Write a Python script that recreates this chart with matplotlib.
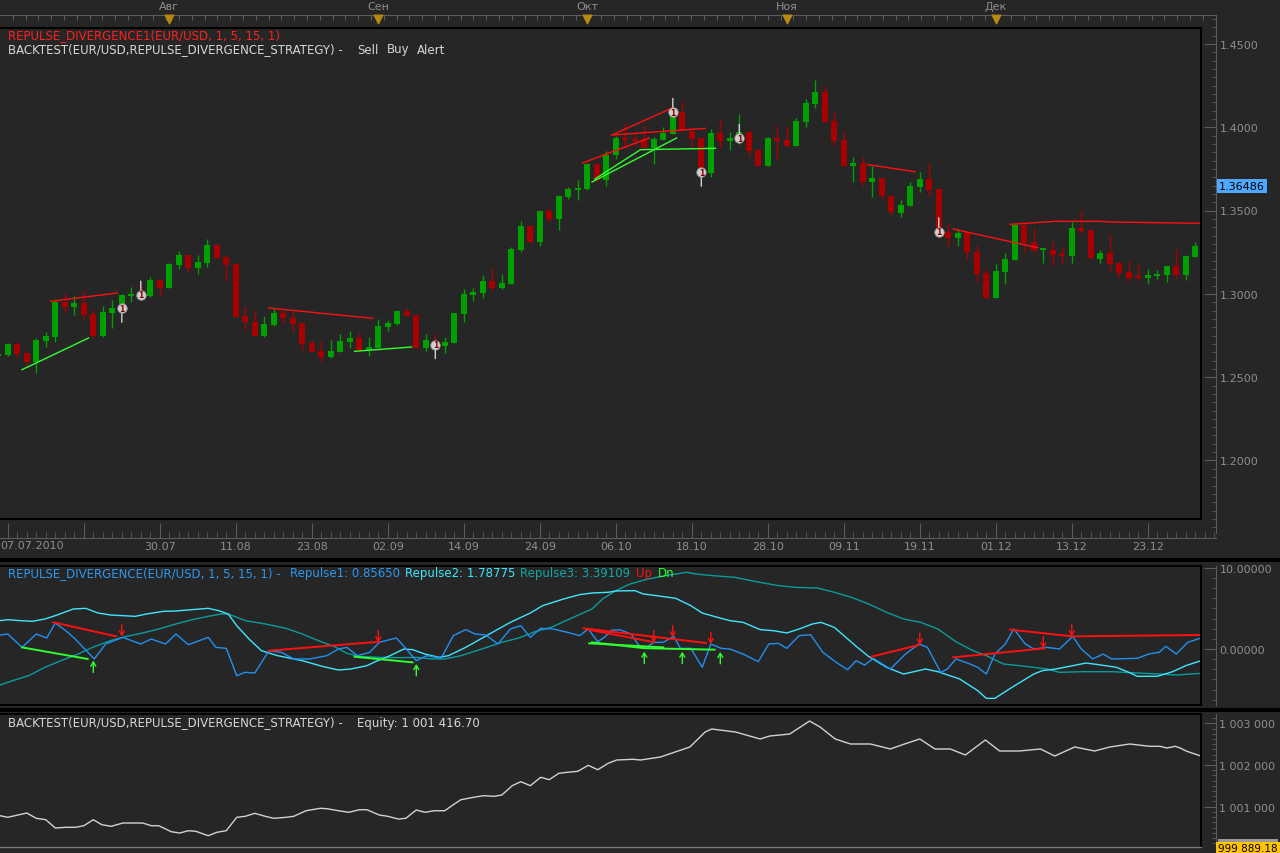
import numpy as np
import matplotlib
matplotlib.use('Agg')
import matplotlib.pyplot as plt
import matplotlib.transforms as mtransforms
from matplotlib.patches import Rectangle
from matplotlib.ticker import (MultipleLocator, FixedLocator, FixedFormatter,
                               FormatStrFormatter, FuncFormatter)

plt.rcParams['font.family'] = ['DejaVu Sans']

# ---- price data (daily EUR/USD candles, 07.07.2010 .. end of Dec) ----
opens = [1.2627, 1.2633, 1.2699, 1.2645, 1.2589, 1.2717, 1.2741, 1.2949, 1.2921, 1.2945,
         1.2877, 1.2747, 1.2885, 1.2937, 1.2987, 1.2996, 1.2987, 1.3083, 1.3037, 1.3173,
         1.3233, 1.3157, 1.3187, 1.3293, 1.3223, 1.3179, 1.2865, 1.2829, 1.2749, 1.2815,
         1.2883, 1.2855, 1.2825, 1.2705, 1.2657, 1.2623, 1.2653, 1.2713, 1.2733, 1.2663,
         1.2677, 1.2803, 1.2819, 1.2897, 1.2873, 1.2675, 1.2717, 1.2687, 1.2705, 1.2879,
         1.2993, 1.3005, 1.3077, 1.3035, 1.3059, 1.3263, 1.3407, 1.3311, 1.3497, 1.3449,
         1.3581, 1.3625, 1.3629, 1.3779, 1.3685, 1.3833, 1.3935, 1.3929, 1.3929, 1.3875,
         1.3923, 1.3959, 1.4091, 1.3979, 1.3933, 1.3725, 1.3965, 1.3919, 1.3953, 1.3971,
         1.3863, 1.3769, 1.3933, 1.3923, 1.3889, 1.4033, 1.4139, 1.4209, 1.4039, 1.3923,
         1.3769, 1.3785, 1.3669, 1.3695, 1.3585, 1.3485, 1.3529, 1.3643, 1.3689, 1.3629,
         1.3371, 1.3333, 1.3371, 1.3249, 1.3125, 1.2975, 1.3133, 1.3205, 1.3413, 1.3309,
         1.3263, 1.3261, 1.3239, 1.3229, 1.3395, 1.3383, 1.3209, 1.3245, 1.3185, 1.3131,
         1.3105, 1.3097, 1.3109, 1.3115, 1.3167, 1.3115, 1.3223]
highs = [1.2645, 1.2705, 1.2713, 1.2645, 1.2735, 1.2773, 1.2959, 1.3005, 1.2985, 1.3023,
         1.2909, 1.2925, 1.2961, 1.2999, 1.3041, 1.3059, 1.3103, 1.3089, 1.3185, 1.3257,
         1.3233, 1.3233, 1.3329, 1.3305, 1.3233, 1.3183, 1.2925, 1.2903, 1.2865, 1.2909,
         1.2905, 1.2897, 1.2825, 1.2721, 1.2717, 1.2723, 1.2759, 1.2777, 1.2763, 1.2743,
         1.2849, 1.2843, 1.2897, 1.2913, 1.2873, 1.2759, 1.2759, 1.2741, 1.2885, 1.3029,
         1.3035, 1.3113, 1.3155, 1.3119, 1.3281, 1.3437, 1.3413, 1.3497, 1.3509, 1.3593,
         1.3641, 1.3683, 1.3785, 1.3785, 1.3859, 1.3949, 1.4025, 1.3965, 1.4015, 1.3941,
         1.4001, 1.4109, 1.4157, 1.3989, 1.3933, 1.3989, 1.4049, 1.3971, 1.4079, 1.3977,
         1.3869, 1.3939, 1.4009, 1.4009, 1.4055, 1.4169, 1.4281, 1.4249, 1.4089, 1.3969,
         1.3819, 1.3819, 1.3769, 1.3695, 1.3585, 1.3563, 1.3671, 1.3733, 1.3785, 1.3629,
         1.3419, 1.3389, 1.3373, 1.3295, 1.3149, 1.3179, 1.3245, 1.3419, 1.3419, 1.3395,
         1.3277, 1.3317, 1.3283, 1.3433, 1.3499, 1.3383, 1.3263, 1.3353, 1.3185, 1.3199,
         1.3179, 1.3149, 1.3143, 1.3167, 1.3269, 1.3233, 1.3311]
lows = [1.2621, 1.2627, 1.2613, 1.2569, 1.2525, 1.2683, 1.2713, 1.2893, 1.2873, 1.2849,
        1.2735, 1.2741, 1.2797, 1.2929, 1.2953, 1.2981, 1.2983, 1.2985, 1.3033, 1.3149,
        1.3133, 1.3119, 1.3163, 1.3217, 1.3079, 1.2863, 1.2783, 1.2749, 1.2739, 1.2807,
        1.2825, 1.2773, 1.2665, 1.2649, 1.2589, 1.2613, 1.2653, 1.2677, 1.2659, 1.2629,
        1.2677, 1.2779, 1.2813, 1.2867, 1.2675, 1.2659, 1.2687, 1.2645, 1.2705, 1.2833,
        1.2957, 1.2975, 1.3023, 1.3029, 1.3059, 1.3251, 1.3305, 1.3287, 1.3431, 1.3383,
        1.3569, 1.3563, 1.3623, 1.3671, 1.3645, 1.3809, 1.3869, 1.3881, 1.3875, 1.3779,
        1.3923, 1.3959, 1.3977, 1.3881, 1.3753, 1.3703, 1.3873, 1.3865, 1.3899, 1.3829,
        1.3765, 1.3765, 1.3809, 1.3879, 1.3885, 1.3999, 1.4113, 1.4033, 1.3889, 1.3765,
        1.3669, 1.3645, 1.3579, 1.3569, 1.3479, 1.3459, 1.3525, 1.3613, 1.3585, 1.3353,
        1.3289, 1.3289, 1.3205, 1.3069, 1.2969, 1.2975, 1.3059, 1.3203, 1.3253, 1.3259,
        1.3185, 1.3169, 1.3179, 1.3185, 1.3365, 1.3213, 1.3185, 1.3139, 1.3097, 1.3079,
        1.3085, 1.3061, 1.3089, 1.3073, 1.3097, 1.3085, 1.3223]
closes = [1.2639, 1.2699, 1.2639, 1.2593, 1.2723, 1.2749, 1.2953, 1.2923, 1.2945, 1.2875,
          1.2747, 1.2889, 1.2915, 1.2993, 1.2997, 1.2990, 1.3083, 1.3035, 1.3179, 1.3233,
          1.3157, 1.3191, 1.3293, 1.3217, 1.3175, 1.2863, 1.2829, 1.2749, 1.2819, 1.2885,
          1.2853, 1.2819, 1.2699, 1.2653, 1.2623, 1.2657, 1.2717, 1.2735, 1.2659, 1.2681,
          1.2807, 1.2825, 1.2897, 1.2867, 1.2675, 1.2723, 1.2699, 1.2711, 1.2885, 1.2999,
          1.3011, 1.3077, 1.3035, 1.3065, 1.3269, 1.3407, 1.3311, 1.3497, 1.3449, 1.3587,
          1.3629, 1.3635, 1.3779, 1.3685, 1.3833, 1.3933, 1.3923, 1.3917, 1.3875, 1.3929,
          1.3965, 1.4069, 1.3977, 1.3929, 1.3753, 1.3965, 1.3919, 1.3933, 1.3971, 1.3859,
          1.3769, 1.3933, 1.3919, 1.3889, 1.4035, 1.4145, 1.4209, 1.4033, 1.3919, 1.3769,
          1.3785, 1.3669, 1.3695, 1.3585, 1.3491, 1.3533, 1.3649, 1.3689, 1.3625, 1.3397,
          1.3333, 1.3365, 1.3249, 1.3119, 1.2975, 1.3135, 1.3209, 1.3413, 1.3305, 1.3259,
          1.3269, 1.3233, 1.3229, 1.3395, 1.3377, 1.3213, 1.3245, 1.3179, 1.3127, 1.3097,
          1.3097, 1.3113, 1.3119, 1.3167, 1.3115, 1.3227, 1.3287]
last_price = 1.36486

date_ticks = [1, 9, 17, 25, 33, 41, 49, 57, 65, 73, 81, 89, 97, 105, 113, 121]
date_labels = ['07.07.2010', '', '30.07', '11.08', '23.08', '02.09', '14.09', '24.09',
               '06.10', '18.10', '28.10', '09.11', '19.11', '01.12', '13.12', '23.12']
month_idx = [18, 40, 62, 83, 105]
month_labels = ['Авг', 'Сен', 'Окт', 'Ноя', 'Дек']

# strategy signals on the price chart
sig_idx = [13, 15, 46, 71, 74, 78, 99]
sig_price = [1.2913, 1.2993, 1.2695, 1.4089, 1.3729, 1.3933, 1.3373]
sig_dir = [-1, 1, -1, 1, -1, 1, 1]

# divergence lines on the price chart: (index, price) vertices
price_red = [[(5.5, 1.2955), (12.5, 1.3005)],
             [(28.5, 1.2915), (39.4, 1.2853)],
             [(61.5, 1.3785), (68.5, 1.3935)],
             [(64.6, 1.3953), (71.0, 1.4117)],
             [(64.6, 1.3953), (74.4, 1.3993)],
             [(91.5, 1.3775), (96.5, 1.3733)],
             [(100.5, 1.3389), (109.4, 1.3277)],
             [(106.5, 1.3417), (111.2, 1.3435), (116.0, 1.3435), (117.0, 1.3431), (126.6, 1.3423)]]
price_green = [[(2.5, 1.2545), (9.5, 1.2735)],
               [(37.5, 1.2655), (43.5, 1.2681)],
               [(62.5, 1.3671), (71.4, 1.3935)],
               [(62.8, 1.3689), (67.6, 1.3865), (75.5, 1.3873)]]

# ---- REPULSE oscillator ----
rep1_x = [0.2, 1.0, 2.5, 4.0, 5.1, 6.0, 7.1, 8.1, 10.1, 11.3, 13.1, 15.0, 16.1, 17.6, 18.7,
          20.0, 22.1, 22.9, 24.0, 25.1, 26.0, 27.0, 28.5, 29.8, 31.1, 32.8, 34.6, 35.8, 36.7,
          37.8, 39.1, 40.1, 41.9, 42.7, 44.0, 45.1, 46.6, 47.9, 49.2, 50.2, 51.3, 52.6, 53.9,
          55.0, 56.0, 57.1, 58.4, 59.9, 61.2, 62.1, 63.1, 63.8, 64.6, 65.5, 66.6, 67.4, 68.1,
          69.0, 70.0, 71.1, 71.8, 72.9, 74.1, 75.0, 76.1, 77.0, 78.4, 80.0, 81.1, 82.1, 83.0,
          84.3, 85.5, 86.8, 88.2, 89.4, 90.3, 91.2, 92.1, 93.9, 95.5, 96.9, 97.8, 99.2, 99.9,
          100.8, 102.1, 103.1, 104.0, 104.9, 106.0, 106.9, 108.1, 109.0, 110.4, 111.7, 113.1,
          114.0, 115.2, 116.3, 117.2, 119.9, 121.1, 122.2, 122.9, 124.0, 125.2, 126.6]
rep1_v = [1.73, 1.85, 0.2, 1.85, 1.36, 3.21, 2.26, 1.23, -1.23, 0.62, 1.44, 0.62, 1.23, 0.62,
          1.85, 0.53, 1.44, 0.2, 0.08, -3.29, -2.88, -2.96, -0.21, -0.41, -1.23, -1.23, -0.82,
          0.0, 0.2, -0.82, -0.41, 0.82, 1.36, 0.33, -1.44, -0.82, -1.15, 1.65, 2.39, 1.85, 1.73,
          0.62, 2.47, 2.88, 1.44, 2.55, 2.47, 2.06, 1.65, 2.47, 0.9, 1.44, 2.35, 2.35, 1.85,
          0.49, 0.08, 0.82, 0.82, 1.56, 0.08, 0.08, -2.26, 0.62, 0.08, 0.0, -0.62, -1.56, 0.62,
          0.7, 0.08, 1.65, 1.77, -0.41, -1.65, -2.55, -1.44, -1.98, -1.15, -2.47, -0.62, 0.62,
          0.2, -2.88, -2.47, -1.23, -1.77, -2.26, -3.09, -0.62, 0.62, 2.47, 0.62, 0.0, 0.2, 0.0,
          1.56, 0.0, -1.23, -0.62, -1.23, -1.15, -0.62, -0.41, 0.33, -0.62, 0.82, 1.36]
rep2_x = [0.2, 1.0, 2.3, 3.6, 4.9, 6.0, 7.9, 9.2, 10.5, 11.8, 14.4, 15.6, 17.4, 18.7, 20.4,
          22.1, 23.2, 24.2, 25.1, 26.4, 27.7, 29.4, 32.0, 34.1, 35.8, 37.1, 38.8, 39.7, 41.0,
          42.7, 43.6, 44.9, 46.4, 47.4, 49.2, 51.7, 53.9, 56.0, 57.3, 59.5, 61.2, 62.5, 64.2,
          65.0, 67.0, 67.9, 69.3, 71.3, 72.9, 74.1, 75.7, 77.0, 78.4, 80.2, 81.6, 83.0, 84.3,
          85.7, 86.6, 88.0, 89.1, 90.3, 91.6, 93.5, 95.3, 97.6, 98.9, 101.2, 103.1, 104.0,
          104.9, 106.7, 109.0, 109.9, 111.3, 113.1, 114.5, 115.8, 117.7, 119.0, 119.9, 122.0,
          123.6, 125.0, 126.6]
rep2_v = [3.5, 3.62, 3.5, 3.42, 3.7, 4.12, 4.94, 5.02, 4.44, 4.2, 4.03, 4.32, 4.65, 4.69, 4.86,
          5.02, 4.73, 4.32, 2.88, 1.23, -0.21, -0.82, -1.44, -2.14, -2.59, -2.47, -2.06, -1.56,
          -0.95, 0.0, -0.08, -0.62, -1.03, -0.82, 0.2, 1.85, 3.29, 4.44, 5.35, 6.17, 6.71, 6.91,
          7.0, 7.16, 7.2, 6.79, 6.58, 6.26, 5.35, 4.44, 3.91, 3.5, 3.29, 2.39, 2.26, 1.98, 2.47,
          3.09, 3.29, 2.67, 1.56, 0.33, -0.91, -2.26, -3.09, -2.47, -2.8, -3.7, -5.14, -6.09,
          -6.09, -4.73, -3.09, -2.67, -2.47, -2.06, -1.73, -1.93, -2.26, -2.88, -3.37, -3.37,
          -2.8, -2.06, -1.44]
rep3_x = [0.2, 1.5, 3.2, 4.9, 6.6, 8.4, 10.1, 11.8, 13.5, 15.2, 16.9, 18.7, 20.4, 22.1, 23.4,
          24.2, 26.0, 28.1, 30.3, 32.0, 33.7, 35.4, 36.7, 38.0, 40.1, 42.3, 44.0, 45.7, 47.0,
          48.7, 50.9, 53.0, 54.8, 56.5, 58.2, 60.3, 62.5, 63.6, 65.0, 66.5, 68.4, 70.2, 72.5,
          73.4, 75.2, 77.5, 79.8, 82.1, 83.9, 86.2, 88.0, 89.8, 91.6, 93.5, 95.3, 97.1, 98.9,
          100.8, 102.6, 104.0, 105.8, 108.1, 110.4, 111.7, 114.0, 117.2, 119.9, 122.2, 124.0,
          126.6]
rep3_v = [-4.44, -3.91, -3.29, -2.26, -1.44, -0.62, 0.29, 1.03, 1.56, 1.98, 2.47, 3.09, 3.62,
          4.03, 4.32, 4.32, 3.5, 3.09, 2.55, 1.85, 1.03, 0.29, -0.53, -0.91, -1.03, -1.07,
          -1.03, -1.23, -1.23, -0.82, 0.0, 0.82, 1.36, 2.14, 2.67, 3.79, 4.94, 6.17, 7.2, 8.02,
          8.64, 9.05, 9.47, 9.26, 9.05, 8.85, 8.31, 7.82, 7.61, 7.53, 7.0, 6.38, 5.56, 4.53,
          3.7, 3.29, 2.47, 0.9, -0.21, -0.82, -1.85, -2.14, -2.47, -2.88, -2.8, -2.8, -2.96,
          -3.09, -3.21, -3.0]
osc_red = [[(5.8, 3.29), (12.4, 1.56)],
           [(28.5, -0.21), (40.1, 0.9)],
           [(61.6, 2.55), (74.5, 0.74)],
           [(62.1, 2.39), (69.0, 0.85)],
           [(91.9, -0.95), (96.9, 0.49)],
           [(100.5, -1.03), (110.1, 0.08)],
           [(106.5, 2.39), (113.1, 1.56), (126.6, 1.73)]]
osc_green = [[(2.5, 0.2), (9.4, -1.23)],
             [(37.5, -0.95), (43.6, -1.65)],
             [(62.5, 0.82), (68.0, 0.1), (75.4, -0.08)],
             [(62.2, 0.7), (70.0, 0.2)]]
dn_idx = [13, 40, 69, 71, 75, 97, 110, 113]
dn_val = [1.56, 0.82, 0.82, 1.44, 0.62, 0.53, 0.08, 1.56]
up_idx = [10, 44, 68, 72, 76]
up_val = [-1.44, -1.85, -0.33, -0.33, -0.37]

# ---- equity curve ----
eq_x = [0.2, 1.0, 3.0, 4.0, 5.0, 6.0, 7.1, 8.1, 9.0, 10.0, 10.9, 11.9, 13.1, 15.2, 16.1, 16.9,
        18.2, 19.1, 20.0, 20.8, 22.1, 23.0, 24.0, 25.1, 26.0, 27.0, 28.1, 29.0, 30.3, 31.1,
        32.4, 33.9, 34.6, 35.8, 36.9, 38.0, 38.8, 40.1, 41.0, 42.1, 42.9, 44.0, 44.9, 45.9,
        47.0, 47.9, 48.7, 50.0, 51.1, 52.2, 53.0, 54.1, 55.0, 56.0, 57.1, 58.0, 59.0, 59.9,
        61.0, 62.1, 63.1, 64.2, 65.1, 66.8, 67.6, 69.7, 72.8, 74.4, 75.1, 77.6, 80.2, 81.2,
        83.3, 85.4, 86.5, 88.1, 89.7, 91.8, 93.9, 95.4, 97.0, 98.6, 100.2, 101.8, 103.9, 105.4,
        107.5, 109.7, 111.2, 113.3, 115.4, 117.0, 119.1, 121.2, 122.3, 123.0, 123.9, 124.4,
        125.1, 126.5]
eq_v = [1000784, 1000746, 1000849, 1000722, 1000688, 1000489, 1000506, 1000506, 1000544,
        1000688, 1000568, 1000530, 1000609, 1000609, 1000544, 1000544, 1000401, 1000369,
        1000425, 1000410, 1000305, 1000386, 1000425, 1000746, 1000770, 1000842, 1000770,
        1000722, 1000746, 1000770, 1000904, 1000962, 1000952, 1000904, 1000866, 1000928,
        1000928, 1000801, 1000770, 1000705, 1000722, 1000921, 1000866, 1000904, 1000904,
        1001048, 1001168, 1001225, 1001264, 1001249, 1001281, 1001504, 1001600, 1001504,
        1001705, 1001648, 1001801, 1001825, 1001849, 1001993, 1001887, 1002041, 1002120,
        1002137, 1002120, 1002192, 1002432, 1002791, 1002863, 1002791, 1002624, 1002695,
        1002743, 1003055, 1002911, 1002624, 1002504, 1002504, 1002384, 1002504, 1002624,
        1002384, 1002384, 1002240, 1002600, 1002336, 1002336, 1002384, 1002216, 1002432,
        1002336, 1002432, 1002504, 1002448, 1002448, 1002408, 1002448, 1002408, 1002329,
        1002223]
equity_now = '1 001 416.70'
equity_low = '999 889.18'

# ---- style ----
W, H = 1280, 854
BG = '#262626'
RULER = '#5c5c5c'
TXT = '#8e8e8e'
GREEN = '#00a000'
RED = '#a80000'
FS = 8.5     # panel titles
FA = 8       # axis labels


def box(x0, y0, x1, y1):
    return [x0 / W, 1 - y1 / H, (x1 - x0) / W, (y1 - y0) / H]


def ftext(x, y, s, color, size=FS, **kw):
    fig.text(x / W, 1 - y / H, s, color=color, fontsize=size, va='center', ha='left', **kw)


def panel(rect, ylim):
    a = fig.add_axes(rect)
    a.set_facecolor(BG)
    a.set_xlim(0.18, 126.6)
    a.set_ylim(*ylim)
    a.set_xticks([])
    a.set_yticks([])
    a.spines['left'].set_visible(False)
    for s in ['top', 'right', 'bottom']:
        a.spines[s].set_color('black')
        a.spines[s].set_linewidth(1.5)
    return a


def ruler(rect, ylim, major, minor, fmt):
    r = fig.add_axes(rect)
    r.patch.set_visible(False)
    r.set_ylim(*ylim)
    r.set_xticks([])
    for s in ['top', 'left', 'bottom']:
        r.spines[s].set_visible(False)
    r.spines['right'].set_color(RULER)
    r.yaxis.tick_right()
    r.yaxis.set_major_locator(MultipleLocator(major))
    r.yaxis.set_minor_locator(MultipleLocator(minor))
    r.yaxis.set_major_formatter(fmt)
    r.tick_params(axis='y', which='major', direction='in', length=9, color=RULER,
                  labelcolor=TXT, labelsize=FA, pad=2.5)
    r.tick_params(axis='y', which='minor', direction='in', length=3, color=RULER)
    return r


fig = plt.figure(figsize=(W / 100, H / 100), dpi=100, facecolor=BG)

# ================= main price panel =================
ax = panel(box(0, 29, 1201, 520), (1.1649, 1.4595))
o = np.array(opens)
h = np.array(highs)
l = np.array(lows)
c = np.array(closes)
idx = np.arange(len(o))
cols = np.where(c >= o, GREEN, RED)
ax.vlines(idx, l, h, colors=cols, lw=1)
ax.bar(idx, np.maximum(np.abs(c - o), 0.0011), bottom=np.minimum(o, c), width=0.66,
       color=cols, lw=0)

for seg in price_red:
    xs, ys = zip(*seg)
    ax.plot(xs, ys, color='#ff1010', lw=1)
for seg in price_green:
    xs, ys = zip(*seg)
    ax.plot(xs, ys, color='#30ff30', lw=1)

for i, p, d in zip(sig_idx, sig_price, sig_dir):
    ax.annotate('', xy=(i, p), xytext=(0, d * 10), textcoords='offset points',
                arrowprops=dict(arrowstyle='-', color='#d0d0d0', lw=1, shrinkA=0, shrinkB=0))
    ax.scatter([i], [p], s=46, color='#cfcfcf', edgecolors='#9a9a9a', linewidths=0.6, zorder=5)
    ax.text(i, p, '1', color='#8a0000', fontsize=5.5, fontweight='bold', ha='center',
            va='center', zorder=6)

ftext(8, 36, 'REPULSE_DIVERGENCE1(EUR/USD, 1, 5, 15, 1)', '#ff2020')
ftext(8, 50, 'BACKTEST(EUR/USD,REPULSE_DIVERGENCE_STRATEGY) -', '#d6d6d6')
ftext(357, 50, 'Sell', '#d6d6d6')
ftext(387, 50, 'Buy', '#d6d6d6')
ftext(417, 50, 'Alert', '#d6d6d6')

# price ruler on the right
axr = ruler(box(1201, 15.5, 1216, 534), (1.1565, 1.4676), 0.05, 0.005,
            FormatStrFormatter('%.4f'))
axr.text(1.22, last_price, last_price, transform=mtransforms.blended_transform_factory(
    axr.transAxes, axr.transData), color='black', fontsize=FA, ha='left', va='center',
    bbox=dict(boxstyle='square,pad=0.2', fc='#4fa8ff', ec='none'))

# month ruler on top
axt = fig.add_axes(box(0, 15.7, 1216, 29))
axt.patch.set_visible(False)
axt.set_xlim(0.18, 128.18)
axt.set_ylim(0, 1)
for s in ['bottom', 'left', 'right']:
    axt.spines[s].set_visible(False)
axt.spines['top'].set_color(RULER)
axt.xaxis.set_ticks_position('top')
axt.set_xticks(np.arange(1.52, 128, 1.347))
axt.tick_params(axis='x', direction='in', length=3.5, color=RULER, labeltop=False)
axt.set_yticks([])
axt.scatter(month_idx, [0.64] * len(month_idx), marker='v', s=38, color='#b8870f',
            clip_on=False, zorder=5)
for m, lab in zip(month_idx, month_labels):
    axt.text(m, 1.62, lab, ha='center', va='center', color=TXT, fontsize=FA, clip_on=False)

# date ruler below
axd = fig.add_axes(box(0, 520, 1216, 539))
axd.patch.set_visible(False)
axd.set_xlim(0.18, 128.18)
for s in ['top', 'left', 'right']:
    axd.spines[s].set_visible(False)
axd.spines['bottom'].set_color(RULER)
axd.xaxis.set_major_locator(FixedLocator(date_ticks))
axd.xaxis.set_major_formatter(FixedFormatter([''] + date_labels[1:]))
axd.xaxis.set_minor_locator(MultipleLocator(1))
axd.tick_params(axis='x', which='major', direction='in', length=11, color=RULER,
                labelcolor=TXT, labelsize=FA, pad=2.5)
axd.tick_params(axis='x', which='minor', direction='in', length=4, color=RULER)
axd.set_yticks([])
axd.text(0.18, -0.37, date_labels[0], transform=mtransforms.blended_transform_factory(
    axd.transData, axd.transAxes), color=TXT, fontsize=FA, ha='left', va='center')

# separators
fig.add_artist(Rectangle((0, 1 - 563 / H), 1, 4 / H, transform=fig.transFigure,
                         color='black', lw=0))
fig.add_artist(Rectangle((0, 1 - 712.5 / H), 1, 4 / H, transform=fig.transFigure,
                         color='black', lw=0))

# ================= oscillator panel =================
ax2 = panel(box(0, 566.7, 1201, 706), (-6.91, 10.28))
ax2.plot(rep3_x, rep3_v, color='#0a9c9c', lw=1)
ax2.plot(rep2_x, rep2_v, color='#3ee6ff', lw=1)
ax2.plot(rep1_x, rep1_v, color='#2290f0', lw=1)
for seg in osc_red:
    xs, ys = zip(*seg)
    ax2.plot(xs, ys, color='#ff1010', lw=1.4)
for seg in osc_green:
    xs, ys = zip(*seg)
    ax2.plot(xs, ys, color='#30ff30', lw=1.4)
for i, v in zip(dn_idx, dn_val):
    ax2.annotate('', xy=(i, v), xytext=(0, 8.5), textcoords='offset points',
                 arrowprops=dict(arrowstyle='->,head_length=0.3,head_width=0.18',
                                 color='#ff1010', lw=1, shrinkA=0, shrinkB=0))
for i, v in zip(up_idx, up_val):
    ax2.annotate('', xy=(i, v), xytext=(0, -8.5), textcoords='offset points',
                 arrowprops=dict(arrowstyle='->,head_length=0.3,head_width=0.18',
                                 color='#30ff30', lw=1, shrinkA=0, shrinkB=0))

ftext(8, 574, 'REPULSE_DIVERGENCE(EUR/USD, 1, 5, 15, 1) -', '#2c98f0')
ftext(290, 574, 'Repulse1: 0.85650', '#2c98f0')
ftext(405, 574, 'Repulse2: 1.78775', '#3ee6ff')
ftext(520, 574, 'Repulse3: 3.39109', '#10a8a8')
ftext(636, 574, 'Up', '#ff1010')
ftext(658, 574, 'Dn', '#30ff30')

ruler(box(1201, 566.7, 1216, 706), (-6.91, 10.28), 10, 1.25, FormatStrFormatter('%.5f'))

# ================= equity panel =================
ax3 = panel(box(0, 715, 1201, 848), (1000034, 1003223))
ax3.spines['bottom'].set_color('#7a7a7a')
ax3.spines['bottom'].set_linewidth(1)
ax3.plot(eq_x, eq_v, color='#d2d2d2', lw=1)
ftext(8, 723, 'BACKTEST(EUR/USD,REPULSE_DIVERGENCE_STRATEGY) -', '#d6d6d6')
ftext(357, 723, 'Equity: ' + equity_now, '#d6d6d6')

ruler(box(1201, 715, 1216, 848), (1000034, 1003223), 1000, 125,
      FuncFormatter(lambda v, p: f'{v:,.0f}'.replace(',', ' ')))

fig.add_artist(Rectangle((1216 / W, 0), 64 / W, 11 / H, transform=fig.transFigure,
                         color='#ffc400', lw=0))
fig.add_artist(Rectangle((1218 / W, 11 / H), 60 / W, 3 / H, transform=fig.transFigure,
                         color='#9a9a9a', lw=0))
ftext(1218, 849, equity_low, 'black', size=7.5)

fig.savefig('out.png', dpi=100, facecolor=BG)
